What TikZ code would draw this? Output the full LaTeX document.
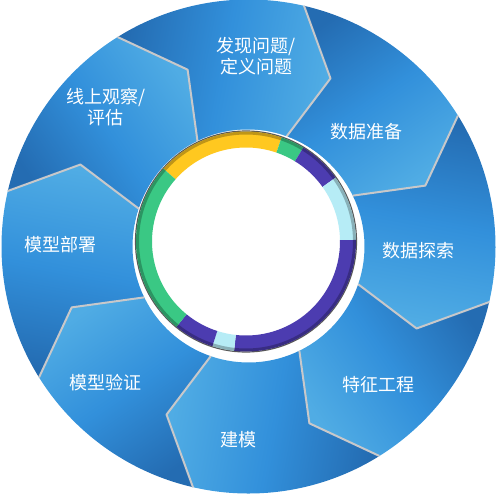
\documentclass[tikz,border=0pt]{standalone}
\usepackage{fontspec}
\newfontfamily\cjk{Noto Sans CJK SC}
\usepackage{xcolor}
\definecolor{segdark}{RGB}{36, 108, 178}
\definecolor{segmid}{RGB}{50, 144, 219}
\definecolor{seglight}{RGB}{80, 172, 228}
\definecolor{edgegrey}{RGB}{200, 200, 202}
\definecolor{bandyellow}{RGB}{255, 200, 32}
\definecolor{bandgreen}{RGB}{58, 200, 132}
\definecolor{bandpurple}{RGB}{76, 60, 176}
\definecolor{bandcyan}{RGB}{182, 236, 246}

\tikzset{
  seglabel/.style={text=white, font=\cjk\fontsize{18}{21}\selectfont, align=center},
  frontedge/.style={draw=edgegrey, line width=2pt, line join=round},
}

\begin{document}
\begin{tikzpicture}[x=1pt,y=1pt]
\useasboundingbox (-248.5,-246.5) rectangle (248.5,246.5);

% chevron ring, clockwise
\foreach \a [evaluate=\a as \sh using \a-222.5] in {122,77,32,-13,-58,-103,-148,-193}{
  \path[top color=seglight, bottom color=segdark, middle color=segmid, shading angle=\sh]
    (\a:247pt) arc[start angle=\a, end angle=\a-45, radius=247pt]
    -- (\a-58:187pt) -- (\a-51:116pt)
    arc[start angle=\a-51, end angle=\a-6, radius=116pt]
    -- (\a-13:187pt) -- cycle;
}
\foreach \a in {122,77,32,-13,-58,-103,-148,-193}
  \draw[frontedge] (\a:247pt) -- (\a-13:187pt) -- (\a-6:116pt);

% inner disc and coloured band
\fill[white] (-1,3) circle (114pt);
\coordinate (hub) at (-2.5,5);
\draw[black!65, line width=1.2pt] (hub) circle (110.5pt);
\foreach \s/\e/\c in {138.6/71.1/bandyellow, 71.1/58.6/bandgreen, 58.6/35.5/bandpurple,
    35.5/0.8/bandcyan, 0.8/-96.2/bandpurple, -96.2/-107.8/bandcyan, -107.8/-129.2/bandpurple,
    -129.2/-221.4/bandgreen}
  \fill[\c] ([shift={(\s:110pt)}]hub) arc[start angle=\s, end angle=\e, radius=110pt]
    -- ([shift={(\e:94pt)}]hub) arc[start angle=\e, end angle=\s, radius=94pt] -- cycle;
\draw[black, opacity=.25, line width=3pt] (hub) circle (108.5pt);

\node[seglabel] (find)    at (8,190.5)      {发现问题/\\定义问题};
\node[seglabel] (prep)    at (117.5,114.5)  {数据准备};
\node[seglabel] (explore) at (169.5,-4.5)   {数据探索};
\node[seglabel] (feature) at (129.5,-138.5) {特征工程};
\node[seglabel] (model)   at (-10.5,-193.5) {建模};
\node[seglabel] (verify)  at (-142.5,-136.5){模型验证};
\node[seglabel] (deploy)  at (-187.5,1.5)   {模型部署};
\node[seglabel] (online)  at (-142.5,139.5) {线上观察/\\评估};
\end{tikzpicture}
\end{document}
